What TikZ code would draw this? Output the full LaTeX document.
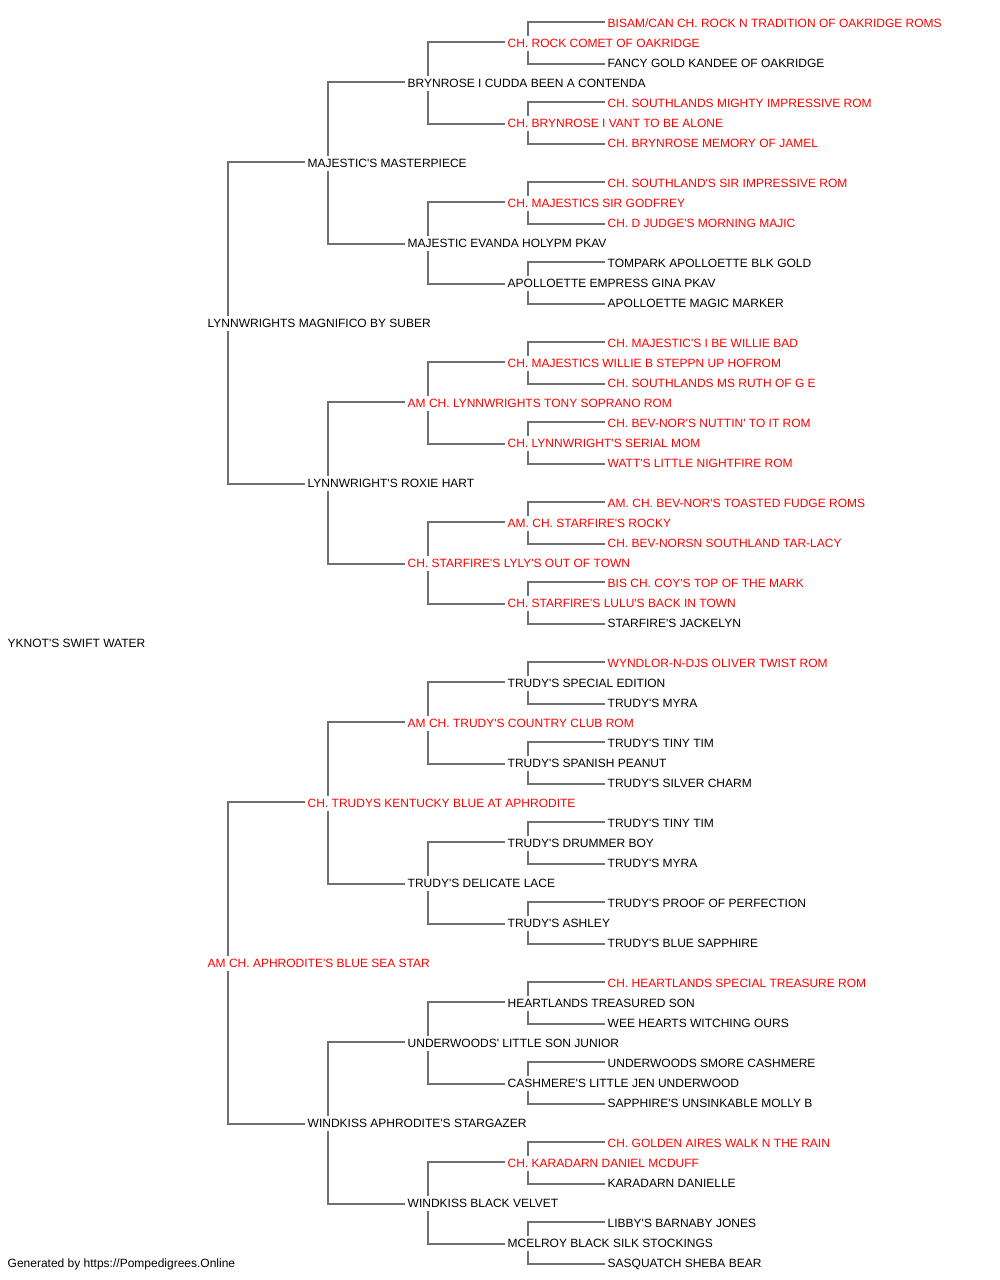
\documentclass[tikz,border=0pt]{standalone}
\usepackage{fontspec}
\setmainfont{Liberation Sans}[Ligatures=TeXOff]
\definecolor{linegray}{RGB}{112,112,112}
\begin{document}
\begin{tikzpicture}[x=1pt,y=-1pt,
  nm/.style={anchor=west, inner xsep=2.5pt, inner ysep=3pt, text height=8.6pt, text depth=0pt, font=\fontsize{12}{14}\selectfont},
  rd/.style={nm, text=red},
  bk/.style={nm, text=black},
  link/.style={draw=linegray, line width=1.3pt}]
\useasboundingbox (0,0) rectangle (1000,1280);
% generation 0
\node[bk] (n31g0) at (5,643.5) {YKNOT'S SWIFT WATER};
% generation 1
\node[bk] (n15) at (205,323.5) {LYNNWRIGHTS MAGNIFICO BY SUBER};
\node[rd] (n47) at (205,963.5) {AM CH. APHRODITE'S BLUE SEA STAR};
% generation 2
\node[bk] (n7) at (305,163.5) {MAJESTIC'S MASTERPIECE};
\node[bk] (n23) at (305,483.5) {LYNNWRIGHT'S ROXIE HART};
\node[rd] (n39) at (305,803.5) {CH. TRUDYS KENTUCKY BLUE AT APHRODITE};
\node[bk] (n55) at (305,1123.5) {WINDKISS APHRODITE'S STARGAZER};
% generation 3
\node[bk] (n3) at (405,83.5) {BRYNROSE I CUDDA BEEN A CONTENDA};
\node[bk] (n11) at (405,243.5) {MAJESTIC EVANDA HOLYPM PKAV};
\node[rd] (n19) at (405,403.5) {AM CH. LYNNWRIGHTS TONY SOPRANO ROM};
\node[rd] (n27) at (405,563.5) {CH. STARFIRE'S LYLY'S OUT OF TOWN};
\node[rd] (n35) at (405,723.5) {AM CH. TRUDY'S COUNTRY CLUB ROM};
\node[bk] (n43) at (405,883.5) {TRUDY'S DELICATE LACE};
\node[bk] (n51) at (405,1043.5) {UNDERWOODS' LITTLE SON JUNIOR};
\node[bk] (n59) at (405,1203.5) {WINDKISS BLACK VELVET};
% generation 4
\node[rd] (n1) at (505,43.5) {CH. ROCK COMET OF OAKRIDGE};
\node[rd] (n5) at (505,123.5) {CH. BRYNROSE I VANT TO BE ALONE};
\node[rd] (n9) at (505,203.5) {CH. MAJESTICS SIR GODFREY};
\node[bk] (n13) at (505,283.5) {APOLLOETTE EMPRESS GINA PKAV};
\node[rd] (n17) at (505,363.5) {CH. MAJESTICS WILLIE B STEPPN UP HOFROM};
\node[rd] (n21) at (505,443.5) {CH. LYNNWRIGHT'S SERIAL MOM};
\node[rd] (n25) at (505,523.5) {AM. CH. STARFIRE'S ROCKY};
\node[rd] (n29) at (505,603.5) {CH. STARFIRE'S LULU'S BACK IN TOWN};
\node[bk] (n33) at (505,683.5) {TRUDY'S SPECIAL EDITION};
\node[bk] (n37) at (505,763.5) {TRUDY'S SPANISH PEANUT};
\node[bk] (n41) at (505,843.5) {TRUDY'S DRUMMER BOY};
\node[bk] (n45) at (505,923.5) {TRUDY'S ASHLEY};
\node[bk] (n49) at (505,1003.5) {HEARTLANDS TREASURED SON};
\node[bk] (n53) at (505,1083.5) {CASHMERE'S LITTLE JEN UNDERWOOD};
\node[rd] (n57) at (505,1163.5) {CH. KARADARN DANIEL MCDUFF};
\node[bk] (n61) at (505,1243.5) {MCELROY BLACK SILK STOCKINGS};
% generation 5
\node[rd] (n0) at (605,23.5) {BISAM/CAN CH. ROCK N TRADITION OF OAKRIDGE ROMS};
\node[bk] (n2) at (605,63.5) {FANCY GOLD KANDEE OF OAKRIDGE};
\node[rd] (n4) at (605,103.5) {CH. SOUTHLANDS MIGHTY IMPRESSIVE ROM};
\node[rd] (n6) at (605,143.5) {CH. BRYNROSE MEMORY OF JAMEL};
\node[rd] (n8) at (605,183.5) {CH. SOUTHLAND'S SIR IMPRESSIVE ROM};
\node[rd] (n10) at (605,223.5) {CH. D JUDGE'S MORNING MAJIC};
\node[bk] (n12) at (605,263.5) {TOMPARK APOLLOETTE BLK GOLD};
\node[bk] (n14) at (605,303.5) {APOLLOETTE MAGIC MARKER};
\node[rd] (n16) at (605,343.5) {CH. MAJESTIC'S I BE WILLIE BAD};
\node[rd] (n18) at (605,383.5) {CH. SOUTHLANDS MS RUTH OF G E};
\node[rd] (n20) at (605,423.5) {CH. BEV-NOR'S NUTTIN' TO IT ROM};
\node[rd] (n22) at (605,463.5) {WATT'S LITTLE NIGHTFIRE ROM};
\node[rd] (n24) at (605,503.5) {AM. CH. BEV-NOR'S TOASTED FUDGE ROMS};
\node[rd] (n26) at (605,543.5) {CH. BEV-NORSN SOUTHLAND TAR-LACY};
\node[rd] (n28) at (605,583.5) {BIS CH. COY'S TOP OF THE MARK};
\node[bk] (n30) at (605,623.5) {STARFIRE'S JACKELYN};
\node[rd] (n32) at (605,663.5) {WYNDLOR-N-DJS OLIVER TWIST ROM};
\node[bk] (n34) at (605,703.5) {TRUDY'S MYRA};
\node[bk] (n36) at (605,743.5) {TRUDY'S TINY TIM};
\node[bk] (n38) at (605,783.5) {TRUDY'S SILVER CHARM};
\node[bk] (n40) at (605,823.5) {TRUDY'S TINY TIM};
\node[bk] (n42) at (605,863.5) {TRUDY'S MYRA};
\node[bk] (n44) at (605,903.5) {TRUDY'S PROOF OF PERFECTION};
\node[bk] (n46) at (605,943.5) {TRUDY'S BLUE SAPPHIRE};
\node[rd] (n48) at (605,983.5) {CH. HEARTLANDS SPECIAL TREASURE ROM};
\node[bk] (n50) at (605,1023.5) {WEE HEARTS WITCHING OURS};
\node[bk] (n52) at (605,1063.5) {UNDERWOODS SMORE CASHMERE};
\node[bk] (n54) at (605,1103.5) {SAPPHIRE'S UNSINKABLE MOLLY B};
\node[rd] (n56) at (605,1143.5) {CH. GOLDEN AIRES WALK N THE RAIN};
\node[bk] (n58) at (605,1183.5) {KARADARN DANIELLE};
\node[bk] (n60) at (605,1223.5) {LIBBY'S BARNABY JONES};
\node[bk] (n62) at (605,1263.5) {SASQUATCH SHEBA BEAR};
% footer
\node[bk] (footer) at (5,1263.5) {Generated by https://Pompedigrees.Online};
% connectors
\foreach \p/\a/\b in {15/7/23, 47/39/55,
  7/3/11, 23/19/27, 39/35/43, 55/51/59,
  3/1/5, 11/9/13, 19/17/21, 27/25/29, 35/33/37, 43/41/45, 51/49/53, 59/57/61,
  1/0/2, 5/4/6, 9/8/10, 13/12/14, 17/16/18, 21/20/22, 25/24/26, 29/28/30,
  33/32/34, 37/36/38, 41/40/42, 45/44/46, 49/48/50, 53/52/54, 57/56/58, 61/60/62}{
  \draw[link] ([xshift=23pt]n\p.north west) |- ([yshift=1.5pt]n\a.west);
  \draw[link] ([xshift=23pt]n\p.south west) |- ([yshift=-0.5pt]n\b.west);
}
\end{tikzpicture}
\end{document}
